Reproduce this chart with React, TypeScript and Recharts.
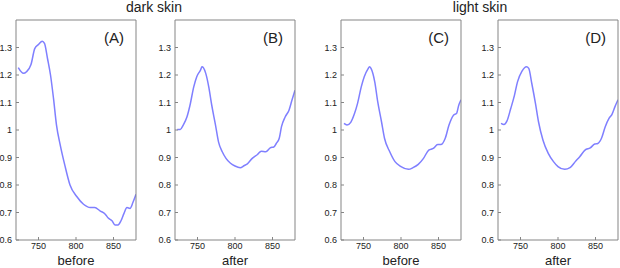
import { LineChart, Line, XAxis, YAxis } from 'recharts';

// wavelength (nm) and reflectance ratio
const wlA = [723, 730, 734, 740, 745, 750, 755, 758, 762, 766, 770, 774, 779, 785, 792, 801, 810, 819, 825, 832, 839, 843, 848, 852, 856, 860, 864, 868, 872, 876, 880];
const valA = [1.227, 1.206, 1.212, 1.238, 1.296, 1.311, 1.323, 1.315, 1.26, 1.2, 1.115, 1.018, 0.945, 0.873, 0.8, 0.758, 0.73, 0.718, 0.718, 0.706, 0.694, 0.68, 0.67, 0.655, 0.655, 0.67, 0.697, 0.718, 0.715, 0.737, 0.766];

const wlB = [723, 727, 731, 736, 740, 745, 749, 754, 756, 758, 761, 765, 769, 774, 778, 783, 788, 794, 800, 807, 812, 816, 823, 830, 835, 841, 847, 852, 855, 859, 862, 867, 872, 876, 880];
const valB = [1.002, 1.002, 1.018, 1.048, 1.09, 1.157, 1.194, 1.218, 1.23, 1.226, 1.206, 1.157, 1.09, 1.018, 0.957, 0.921, 0.897, 0.879, 0.869, 0.863, 0.87, 0.876, 0.897, 0.911, 0.923, 0.921, 0.935, 0.939, 0.951, 0.97, 1.012, 1.048, 1.072, 1.109, 1.145];

const wlC = [724, 728, 733, 738, 742, 747, 751, 756, 758, 760, 765, 769, 774, 778, 785, 792, 800, 810, 816, 823, 830, 837, 843, 849, 853, 859, 864, 870, 874, 877, 880];
const valC = [1.024, 1.018, 1.028, 1.06, 1.096, 1.157, 1.194, 1.222, 1.23, 1.224, 1.175, 1.102, 1.03, 0.97, 0.921, 0.885, 0.867, 0.857, 0.863, 0.875, 0.897, 0.927, 0.933, 0.947, 0.947, 0.97, 1.018, 1.054, 1.06, 1.09, 1.11];

const wlD = [724, 728, 732, 737, 742, 746, 752, 758, 761, 765, 770, 774, 780, 787, 794, 800, 809, 816, 823, 829, 836, 843, 849, 853, 858, 863, 868, 872, 876, 880];
const valD = [1.024, 1.02, 1.033, 1.078, 1.127, 1.175, 1.214, 1.23, 1.224, 1.17, 1.096, 1.03, 0.963, 0.915, 0.885, 0.867, 0.857, 0.863, 0.885, 0.903, 0.927, 0.935, 0.949, 0.951, 0.97, 1.012, 1.042, 1.057, 1.085, 1.11];

const xTicks = [750, 800, 850];
const yTicks = [0.6, 0.7, 0.8, 0.9, 1, 1.1, 1.2, 1.3];
const groupTitles = ['dark skin', 'light skin'];

const FONT = '"Liberation Sans", Arial, sans-serif';
const BOX = '#858585';
const LINE = '#7f7fff';

const zip = (wl: number[], v: number[]) => wl.map((w, i) => ({ wl: w, v: v[i] }));

interface PanelProps {
    wl: number[];
    vals: number[];
    letter: string;
    caption: string;
    plotLeft: number;
}

function Panel({ wl, vals, letter, caption, plotLeft }: PanelProps) {
    const data = zip(wl, vals);
    const tick = { fontSize: 9, fill: '#222', fontFamily: FONT };
    return (
        <div style={{ position: 'absolute', left: plotLeft - 24, top: 0 }}>
            <LineChart width={148} height={268} data={data} margin={{ top: 19, right: 3, bottom: 0, left: 0 }}>
                <XAxis
                    dataKey="wl"
                    type="number"
                    domain={[720, 880]}
                    ticks={xTicks}
                    allowDataOverflow
                    height={28}
                    stroke={BOX}
                    tickSize={-3}
                    tickMargin={6}
                    tick={tick}
                    label={{ value: caption, position: 'insideBottom', offset: 3, fontSize: 13, fill: '#222', fontFamily: FONT }}
                />
                <XAxis
                    xAxisId="top"
                    orientation="top"
                    dataKey="wl"
                    type="number"
                    domain={[720, 880]}
                    ticks={xTicks}
                    allowDataOverflow
                    height={1}
                    stroke={BOX}
                    tickSize={-3}
                    tick={false}
                />
                <YAxis
                    type="number"
                    domain={[0.6, 1.4]}
                    ticks={yTicks}
                    allowDataOverflow
                    width={24}
                    stroke={BOX}
                    tickSize={-3}
                    tickMargin={7}
                    tick={tick}
                    interval={0}
                />
                <YAxis
                    yAxisId="right"
                    orientation="right"
                    type="number"
                    domain={[0.6, 1.4]}
                    ticks={yTicks}
                    width={1}
                    stroke={BOX}
                    tickSize={-3}
                    tick={false}
                />
                <Line
                    type="monotone"
                    dataKey="v"
                    stroke={LINE}
                    strokeWidth={1.5}
                    dot={false}
                    isAnimationActive={false}
                />
            </LineChart>
            <div
                style={{
                    position: 'absolute',
                    left: 24,
                    width: 108,
                    top: 29,
                    textAlign: 'right',
                    fontSize: 15,
                    fontFamily: FONT,
                    color: '#222',
                }}
            >
                {letter}
            </div>
        </div>
    );
}

export default function App() {
    return (
        <div style={{ position: 'absolute', left: 0, top: 0, width: 620, height: 268, overflow: 'hidden', background: '#fff' }}>
            <div style={{ position: 'absolute', left: 54, width: 200, top: -1, textAlign: 'center', fontSize: 14, fontFamily: FONT, color: '#222' }}>
                {groupTitles[0]}
            </div>
            <div style={{ position: 'absolute', left: 380, width: 200, top: -1, textAlign: 'center', fontSize: 14, fontFamily: FONT, color: '#222' }}>
                {groupTitles[1]}
            </div>
            <Panel wl={wlA} vals={valA} letter="(A)" caption="before" plotLeft={16} />
            <Panel wl={wlB} vals={valB} letter="(B)" caption="after" plotLeft={175} />
            <Panel wl={wlC} vals={valC} letter="(C)" caption="before" plotLeft={341} />
            <Panel wl={wlD} vals={valD} letter="(D)" caption="after" plotLeft={498} />
        </div>
    );
}
